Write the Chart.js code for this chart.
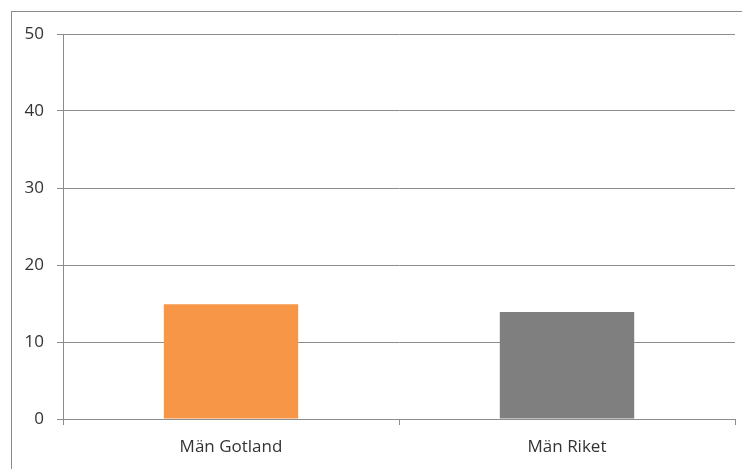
<!DOCTYPE html>
<html>
<head>
<meta charset="utf-8">
<script src="https://cdn.jsdelivr.net/npm/chart.js@4"></script>
<style>
  html, body { margin: 0; padding: 0; background: #fff; overflow: hidden; }
  #wrap { position: relative; width: 742px; height: 469px; }
  #frame { position: absolute; left: 11px; top: 11px; width: 800px; height: 600px; border: 1px solid #8a8a8a; box-sizing: border-box; }
  canvas { position: absolute; left: 0; top: 0; }
</style>
</head>
<body>
<div id="wrap">
  <div id="frame"></div>
  <canvas id="c" width="742" height="469"></canvas>
</div>
<script>
const categories = ["Män Gotland", "Män Riket"];
const values = [14.9, 13.9];
const barColors = ["#F79646", "#7F7F7F"];
const yTicks = [0, 10, 20, 30, 40, 50];

const gridColor = "#8c8c8c";
const textColor = "#333333";
const font = { family: "'Open Sans', sans-serif", size: 17 };

new Chart(document.getElementById("c"), {
  type: "bar",
  data: {
    labels: categories,
    datasets: [{
      data: values,
      backgroundColor: barColors,
      borderWidth: 0,
      barPercentage: 0.4,
      categoryPercentage: 1.0
    }]
  },
  options: {
    responsive: false,
    animation: false,
    devicePixelRatio: 1,
    layout: { padding: { left: 0, right: 7, top: 34, bottom: 0 } },
    plugins: { legend: { display: false }, tooltip: { enabled: false }, title: { display: false } },
    scales: {
      x: {
        grid: { display: true, drawOnChartArea: false, offset: true, color: gridColor, tickLength: 6, lineWidth: 1 },
        border: { display: true, color: gridColor, width: 1 },
        ticks: { color: textColor, font: font, padding: 12 },
        afterFit: (s) => { s.height = 50; }
      },
      y: {
        min: 0, max: 50,
        afterBuildTicks: (s) => { s.ticks = yTicks.map(v => ({ value: v })); },
        grid: { color: gridColor, tickLength: 6, lineWidth: 1 },
        border: { display: true, color: gridColor, width: 1 },
        ticks: { color: textColor, font: font, padding: 13 },
        afterFit: (s) => { s.width = 63; }
      }
    }
  }
});
</script>
</body>
</html>
